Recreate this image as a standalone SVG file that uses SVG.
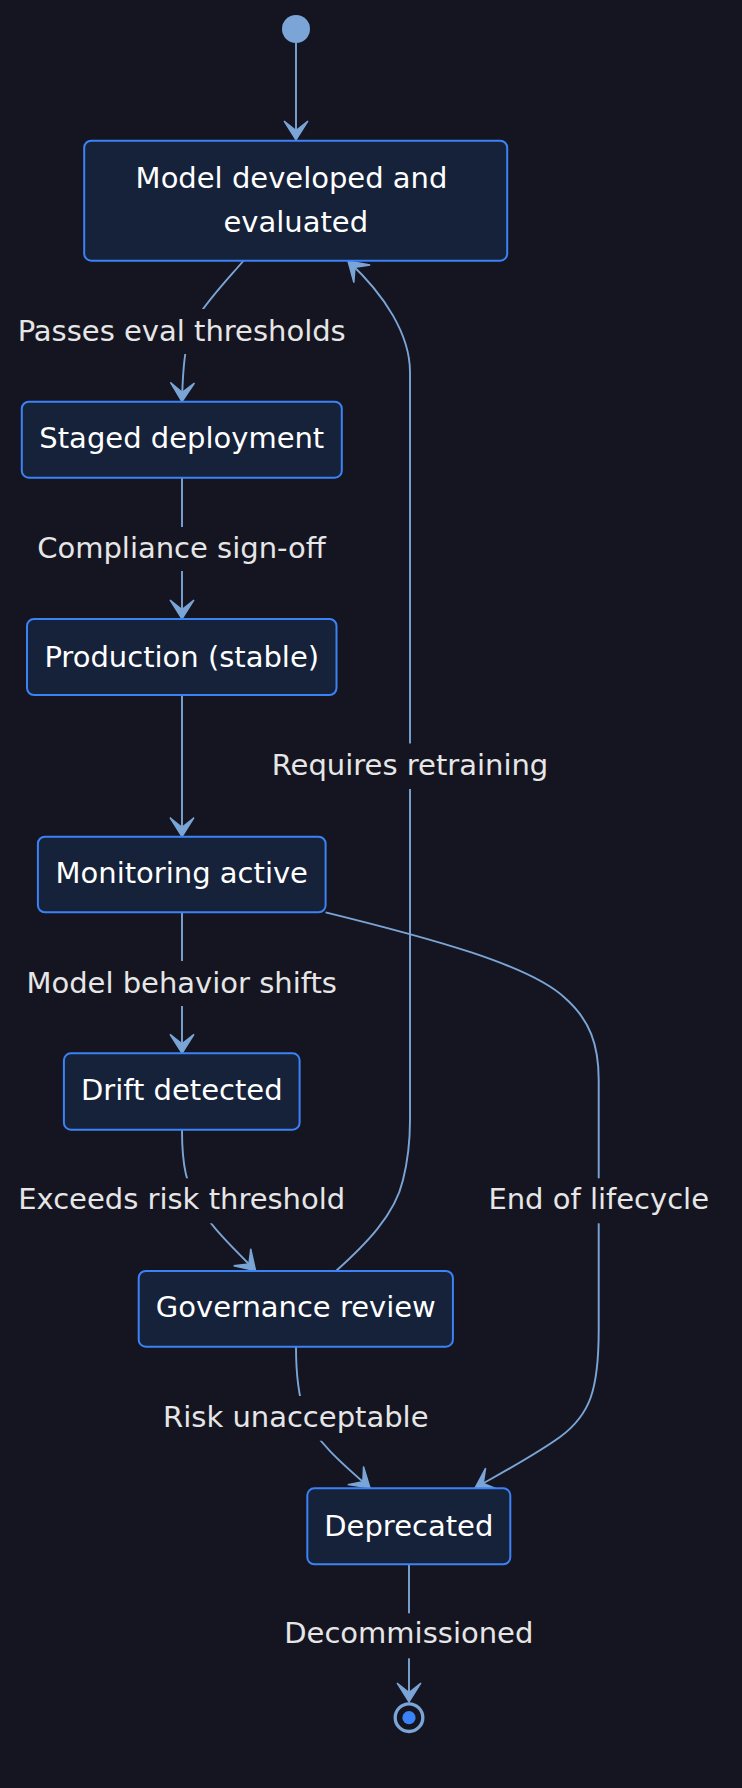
<svg xmlns="http://www.w3.org/2000/svg" width="742" height="1788" viewBox="0 0 742 1788">
<style>
.node rect{fill:#16223a;stroke:#3b82f6;stroke-width:2}
.node text{font-family:"DejaVu Sans",Verdana,sans-serif;font-size:29px;fill:#ffffff;text-anchor:middle}
.edge{fill:none;stroke:#7aa5d6;stroke-width:1.9}
.lbl rect{fill:#151521}
.lbl text{font-family:"DejaVu Sans",Verdana,sans-serif;font-size:29px;fill:#e6e6e6;text-anchor:middle}
</style>
<defs>
<marker id="barb" markerUnits="userSpaceOnUse" markerWidth="24" markerHeight="30" refX="20" refY="14.5" orient="auto" viewBox="0 0 24 30">
<path d="M20,14.5 L1,2.5 L10.5,14.5 L1,26.5 Z" fill="#7aa5d6" stroke="#7aa5d6" stroke-width="1.4" stroke-linejoin="miter"/>
</marker>
</defs>
<rect x="0" y="0" width="742" height="1788" fill="#151521"/>
<g id="connectors">
<path class="edge" d="M296,43 L296,140" marker-end="url(#barb)"/>
<path class="edge" d="M243.3,261 C226,281 208,300 197,318 C186,336 183,360 182,401.7" marker-end="url(#barb)"/>
<path class="edge" d="M182,478 L182,619" marker-end="url(#barb)"/>
<path class="edge" d="M182,695 L182,836.7" marker-end="url(#barb)"/>
<path class="edge" d="M182,912.3 L182,1053.3" marker-end="url(#barb)"/>
<path class="edge" d="M182,1130 C182,1165 186,1185 200,1208 C214,1230 235,1250 255.6,1270.7" marker-end="url(#barb)"/>
<path class="edge" d="M336,1271 C365,1245 395,1215 403,1180 C408,1160 410,1145 410,1120 L410,372 C410,335 385,295 348,261" marker-end="url(#barb)"/>
<path class="edge" d="M325.6,912.3 C430,938 530,965 565,998 C590,1020 598.7,1045 598.7,1080 L598.7,1330 C598.7,1390 590,1415 560,1437 C535,1455 505,1471 475,1488" marker-end="url(#barb)"/>
<path class="edge" d="M296,1347 C296,1375 298,1395 305,1415 C315,1440 340,1462 370,1488" marker-end="url(#barb)"/>
<path class="edge" d="M409,1564.3 L409,1702" marker-end="url(#barb)"/>
<g class="lbl">
<rect x="16" y="309" width="331" height="45"/><text x="181.7" y="340.5">Passes eval thresholds</text>
<rect x="36" y="527" width="291" height="44"/><text x="181.5" y="558.3">Compliance sign-off</text>
<rect x="271" y="743.5" width="278" height="45.5"/><text x="410" y="775">Requires retraining</text>
<rect x="25" y="961" width="314" height="45"/><text x="181.7" y="992.5">Model behavior shifts</text>
<rect x="17" y="1178.3" width="329" height="45"/><text x="181.7" y="1209.3">Exceeds risk threshold</text>
<rect x="488" y="1178.3" width="221" height="45"/><text x="598.7" y="1209.3">End of lifecycle</text>
<rect x="162" y="1396" width="267" height="44.7"/><text x="295.8" y="1427.4">Risk unacceptable</text>
<rect x="284" y="1613.3" width="249" height="45"/><text x="408.8" y="1643.3">Decommissioned</text>
</g>
</g>
<g id="start"><circle cx="296" cy="29" r="14" fill="#7aa5d6"/></g>
<g id="model-developed" class="node"><rect x="84.2" y="140.7" width="423" height="120" rx="7"/><text x="291.5" y="188.3">Model developed and</text><text x="295.8" y="232.3">evaluated</text></g>
<g id="staged" class="node"><rect x="21.8" y="401.7" width="320" height="76" rx="7"/><text x="181.8" y="448">Staged deployment</text></g>
<g id="production" class="node"><rect x="27" y="619" width="309.5" height="76" rx="7"/><text x="181.75" y="666.7">Production (stable)</text></g>
<g id="monitoring" class="node"><rect x="37.9" y="836.7" width="287.7" height="75.6" rx="7"/><text x="181.75" y="883.3">Monitoring active</text></g>
<g id="drift" class="node"><rect x="63.9" y="1053.3" width="235.7" height="76.4" rx="7"/><text x="181.75" y="1100">Drift detected</text></g>
<g id="governance" class="node"><rect x="138.7" y="1271" width="314.2" height="75.7" rx="7"/><text x="295.8" y="1317.3">Governance review</text></g>
<g id="deprecated" class="node"><rect x="307.3" y="1488.3" width="203" height="76" rx="7"/><text x="408.8" y="1536">Deprecated</text></g>
<g id="end"><circle cx="409" cy="1717.7" r="13.8" fill="none" stroke="#7aa5d6" stroke-width="3.3"/><circle cx="409" cy="1717.7" r="6.6" fill="#3b82f6"/></g>
</svg>
